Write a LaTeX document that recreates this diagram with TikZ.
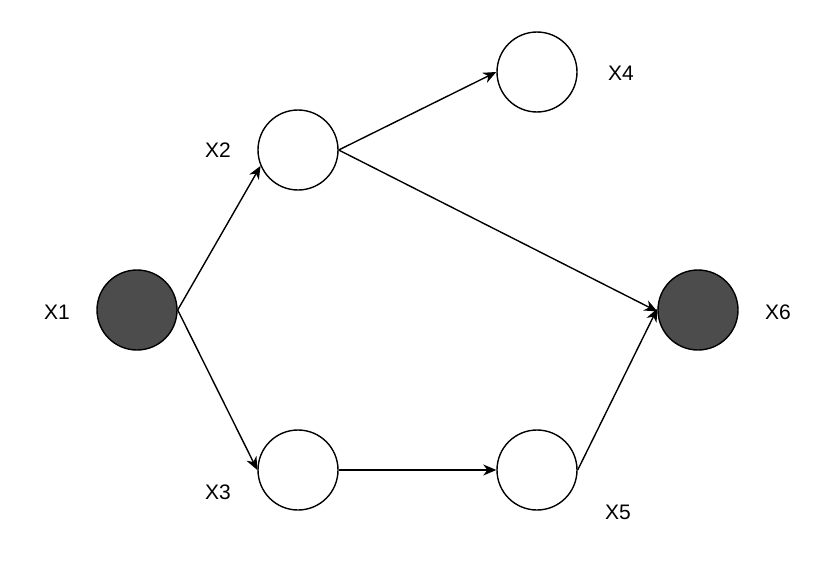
\documentclass[tikz,border=0pt]{standalone}
\usepackage{fontspec}
\setmainfont{Liberation Sans}
\usetikzlibrary{arrows.meta, positioning}

\begin{document}
\begin{tikzpicture}[x=1pt, y=-1pt, >={Stealth[length=13pt, width=11pt, inset=4pt]}, font=\fontsize{21}{24}\selectfont,
    var/.style={circle, draw, line width=1.4pt, minimum size=80pt, inner sep=0pt, fill=white},
    obs/.style={var, fill=black!70},
    edge/.style={->, line width=1.4pt}]
    \useasboundingbox (0,0) rectangle (830,586);

    \coordinate (c1) at (137,310);
    \coordinate (c2) at (298,150);
    \coordinate (c3) at (298,470);
    \coordinate (c4) at (537,72);
    \coordinate (c5) at (537,470);
    \coordinate (c6) at (698,310);

    \node[obs] (x1) at (c1) {};
    \node[var] (x2) at (c2) {};
    \node[var] (x3) at (c3) {};
    \node[var] (x4) at (c4) {};
    \node[var] (x5) at (c5) {};
    \node[obs] (x6) at (c6) {};

    \node (l1) at (57,312) {X1};
    \node (l2) at (218,150) {X2};
    \node (l3) at (218,492) {X3};
    \node (l4) at (621,73) {X4};
    \node (l5) at (618,512) {X5};
    \node (l6) at (778,312) {X6};

    \draw[edge] (x1.east) -- (x2.203);
    \draw[edge] (x1.east) -- (x3.west);
    \draw[edge] (x2.east) -- (x4.west);
    \draw[edge] (x2.east) -- (x6.182);
    \draw[edge] (x3.east) -- (x5.west);
    \draw[edge] (x5.east) -- (x6.178);
\end{tikzpicture}
\end{document}
